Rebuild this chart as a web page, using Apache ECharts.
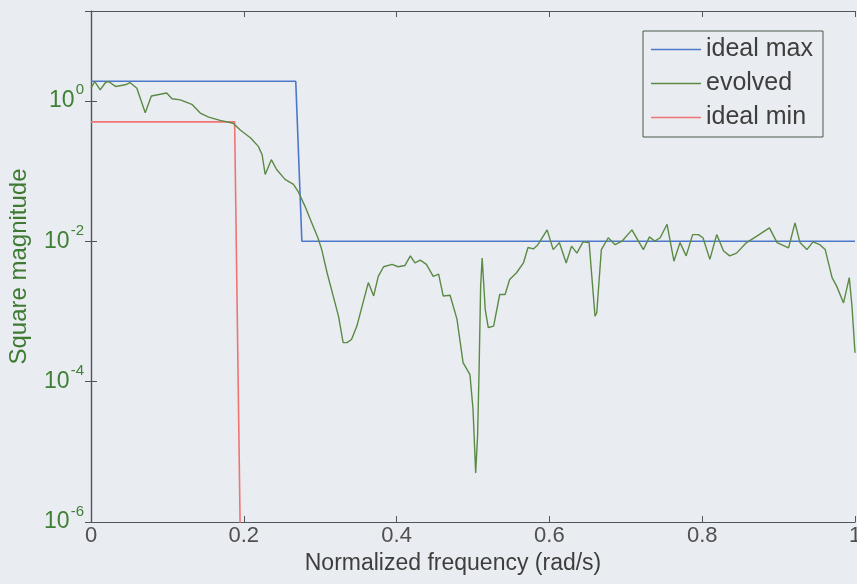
<!DOCTYPE html>
<html><head><meta charset="utf-8">
<script src="https://cdn.jsdelivr.net/npm/echarts@6/dist/echarts.min.js"></script>
<style>html,body{margin:0;padding:0;background:#e9ecf0}#c{width:857px;height:584px}</style>
</head><body><div id="c"></div>
<script>
// ---- data ----
const evolvedFreq = [0.000,0.005,0.012,0.019,0.023,0.032,0.045,0.051,0.060,0.071,0.079,0.099,0.106,0.117,0.132,0.143,0.154,0.169,0.186,0.195,0.209,0.219,0.224,0.228,0.236,0.243,0.254,0.265,0.271,0.280,0.289,0.297,0.302,0.309,0.317,0.324,0.330,0.335,0.341,0.348,0.356,0.363,0.370,0.376,0.383,0.394,0.402,0.411,0.418,0.424,0.431,0.439,0.448,0.455,0.461,0.470,0.479,0.487,0.496,0.500,0.5035,0.506,0.508,0.510,0.512,0.516,0.520,0.527,0.535,0.542,0.548,0.557,0.566,0.572,0.579,0.585,0.597,0.605,0.613,0.622,0.629,0.636,0.644,0.652,0.6597,0.662,0.668,0.677,0.686,0.695,0.708,0.723,0.731,0.738,0.745,0.754,0.763,0.771,0.779,0.7875,0.795,0.801,0.810,0.819,0.828,0.836,0.845,0.858,0.871,0.888,0.898,0.913,0.9215,0.928,0.937,0.945,0.954,0.961,0.970,0.976,0.985,0.9925,0.996,1.000];
const evolvedMag = [1.51,1.88,1.43,1.82,1.88,1.60,1.69,1.82,1.51,0.676,1.17,1.29,1.07,1.03,0.891,0.668,0.586,0.525,0.479,0.387,0.295,0.224,0.170,0.0891,0.145,0.105,0.0759,0.0646,0.0513,0.0316,0.0182,0.0112,0.00759,0.00355,0.00166,0.000851,0.000359,0.000359,0.000398,0.000617,0.00132,0.00257,0.00166,0.00316,0.00432,0.00468,0.00432,0.00451,0.00617,0.00490,0.00537,0.00468,0.00316,0.00339,0.00166,0.00170,0.000776,0.000186,0.000126,0.0000407,0.00000501,0.0000170,0.000151,0.00229,0.00575,0.00107,0.000589,0.000617,0.00174,0.00174,0.00285,0.00355,0.00490,0.00813,0.00776,0.00891,0.0145,0.00759,0.00955,0.00490,0.00851,0.00676,0.00977,0.00955,0.000851,0.000955,0.00759,0.0112,0.00891,0.0100,0.0145,0.00759,0.0115,0.0100,0.0112,0.0174,0.00519,0.00955,0.00617,0.0124,0.0124,0.0112,0.00550,0.0124,0.00724,0.00617,0.00676,0.00955,0.0117,0.0155,0.00955,0.00804,0.0182,0.00955,0.00759,0.00977,0.00891,0.00759,0.00302,0.00229,0.00132,0.00302,0.00120,0.000257];
const idealMaxFreq = [0, 0.268, 0.276, 1];
const idealMaxMag = [1.9, 1.9, 0.01, 0.01];
const idealMinFreq = [0, 0.188, 0.196];
const idealMinMag = [0.5, 0.5, 2e-7];
const xTickLabels = ['0', '0.2', '0.4', '0.6', '0.8', '1'];
const yTickExponents = [-6, -4, -2, 0];
const legendNames = ['ideal max', 'evolved', 'ideal min'];

// ---- chart ----
const FONT = "'Liberation Sans', Arial, sans-serif";
const AXIS = '#4f555c';
const pairs = (xs, ys) => xs.map((x, i) => [x, ys[i]]);
const chart = echarts.init(document.getElementById('c'), null, {renderer: 'canvas'});

function yLabel(v) {
  const e = Math.round(Math.log10(v));
  if (Math.abs(Math.log10(v) - e) > 1e-6 || yTickExponents.indexOf(e) < 0) return '';
  return '{b|10}{s|' + e + '}';
}

const tickStyle = {show: true, inside: true, length: 6, lineStyle: {color: AXIS, width: 1}};
const lineAxis = {show: true, lineStyle: {color: AXIS, width: 1.2}};

chart.setOption({
  backgroundColor: '#e9ecf0',
  animation: false,
  grid: {left: 91, right: 2, top: 11, bottom: 62, containLabel: false, outerBoundsMode: 'none'},
  legend: {
    data: legendNames,
    orient: 'vertical',
    left: 643, top: 31,
    padding: [6, 10, 7, 8],
    itemWidth: 50, itemHeight: 14, itemGap: 9,
    borderColor: '#4b5a4b', borderWidth: 1,
    backgroundColor: '#e9ecf0',
    textStyle: {fontFamily: FONT, fontSize: 25, color: '#3e3e3e'},
    icon: 'path://M0,6 L50,6 L50,7.5 L0,7.5 Z'
  },
  xAxis: [{
    type: 'value', min: 0, max: 1, interval: 0.2, position: 'bottom',
    name: 'Normalized frequency (rad/s)', nameLocation: 'middle', nameGap: 29,
    nameTextStyle: {fontFamily: FONT, fontSize: 23, color: '#3e3e3e', padding: [0, 40, 0, 0]},
    axisLine: lineAxis, axisTick: tickStyle, splitLine: {show: false},
    axisLabel: {fontFamily: FONT, fontSize: 22, color: '#505050', margin: 3,
      formatter: (v) => xTickLabels[Math.round(v / 0.2)] ?? ''}
  }, {
    type: 'value', min: 0, max: 1, interval: 0.2, position: 'top',
    axisLine: lineAxis, axisTick: tickStyle, axisLabel: {show: false}, splitLine: {show: false}
  }],
  yAxis: [{
    type: 'log', logBase: 10, min: 1e-6, max: 19, interval: 2, position: 'left',
    name: 'Square magnitude', nameLocation: 'middle', nameGap: 60,
    nameTextStyle: {fontFamily: FONT, fontSize: 24, color: '#3f7a33', padding: [0, 0, 0, 0]},
    axisLine: lineAxis, axisTick: tickStyle, splitLine: {show: false}, minorTick: {show: false},
    axisLabel: {
      margin: 7, formatter: yLabel,
      rich: {
        b: {fontFamily: FONT, fontSize: 23, color: '#3f8034', lineHeight: 36},
        s: {fontFamily: FONT, fontSize: 15, color: '#3f8034', lineHeight: 15, verticalAlign: 'top', padding: [0, 0, 0, 1]}
      }
    }
  }, {
    type: 'log', logBase: 10, min: 1e-6, max: 19, interval: 2, position: 'right',
    axisLine: lineAxis, axisTick: tickStyle, axisLabel: {show: false}, splitLine: {show: false}
  }],
  series: [{
    name: 'ideal max', type: 'line', data: pairs(idealMaxFreq, idealMaxMag),
    symbol: 'none', clip: true, lineStyle: {color: '#4d78c9', width: 1.6}, itemStyle: {color: '#4d78c9'}
  }, {
    name: 'ideal min', type: 'line', data: pairs(idealMinFreq, idealMinMag),
    symbol: 'none', clip: true, lineStyle: {color: '#f07474', width: 1.6}, itemStyle: {color: '#f07474'}
  }, {
    name: 'evolved', type: 'line', data: pairs(evolvedFreq, evolvedMag),
    symbol: 'none', clip: true, lineStyle: {color: '#5b8a45', width: 1.4}, itemStyle: {color: '#5b8a45'}
  }]
});
</script>
</body></html>
